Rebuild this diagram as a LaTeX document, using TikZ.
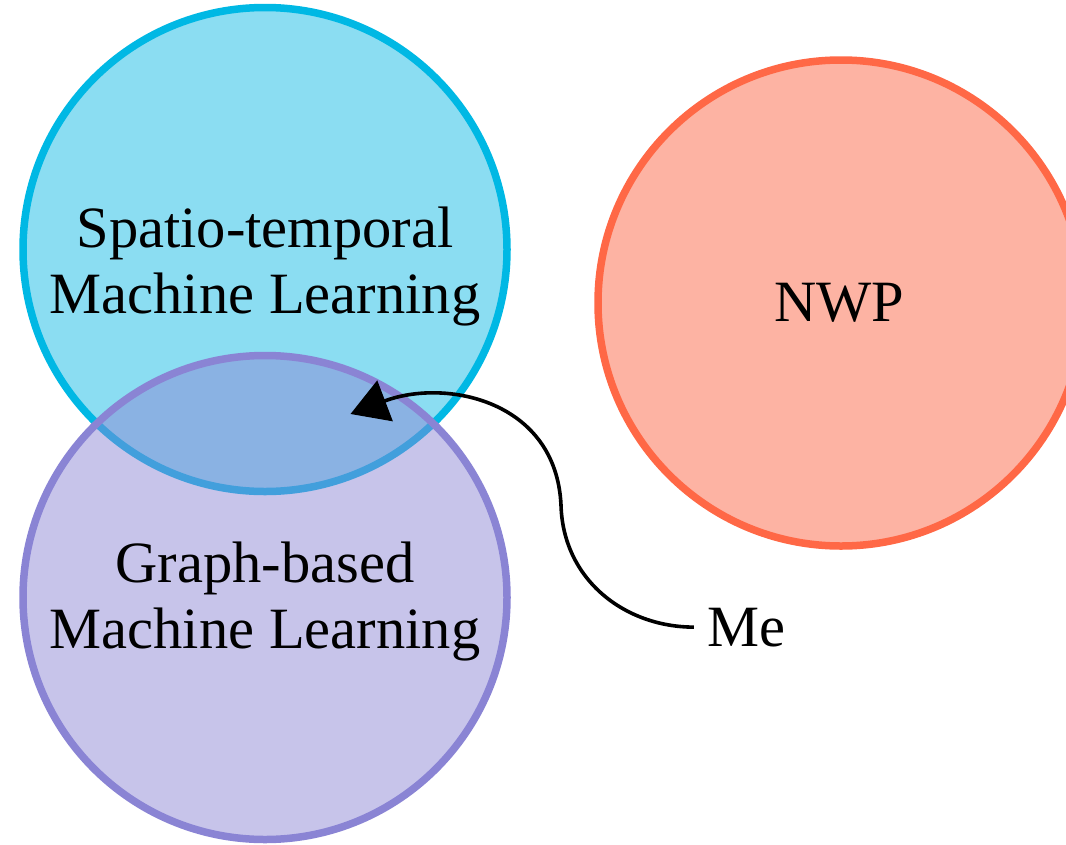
\documentclass[tikz,border=0pt]{standalone}
\usepackage{fontspec}
\setmainfont{Liberation Serif}
\usetikzlibrary{arrows.meta}
\definecolor{stfill}{HTML}{8BDDF2}
\definecolor{stline}{HTML}{00B8E4}
\definecolor{gbline}{HTML}{8A84D4}
\definecolor{nwpfill}{HTML}{FDB3A3}
\definecolor{nwpline}{HTML}{FF6846}
\begin{document}
\begin{tikzpicture}[x=1pt,y=-1pt,
  circ/.style={circle, minimum size=484pt, inner sep=0pt, line width=7.5pt},
  lbl/.style={font=\fontsize{58.5}{66}\selectfont, align=center, inner sep=0pt, text=black},
  link/.style={line width=3.6pt, -{Triangle[length=37pt,width=43pt]}}
]
\useasboundingbox (0,0) rectangle (1066,844);
\clip (0,0) rectangle (1066,844);
% circles
\node[circ, draw=stline, fill=stfill] (st) at (265,249.5) {};
\node[circ, draw=gbline, fill=gbline, fill opacity=0.48, draw opacity=1] (gb) at (265,597.5) {};
\node[circ, minimum size=486pt, draw=nwpline, fill=nwpfill] (nwp) at (841,303) {};
% labels
\node[lbl] (stl) at (265,267) {Spatio-temporal\\Machine Learning};
\node[lbl] (gbl) at (265,602) {Graph-based\\Machine Learning};
\node[lbl, anchor=base] (nwpl) at (839,321) {NWP};
\node[lbl, anchor=base, inner xsep=13pt] (me) at (746,646) {Me};
% arrow
\coordinate (tip) at (350.5,414);
\draw[link] (me.west) .. controls (625,627) and (563,580) .. (561,505)
  .. controls (556,400) and (445,378) .. (tip);
\end{tikzpicture}
\end{document}
